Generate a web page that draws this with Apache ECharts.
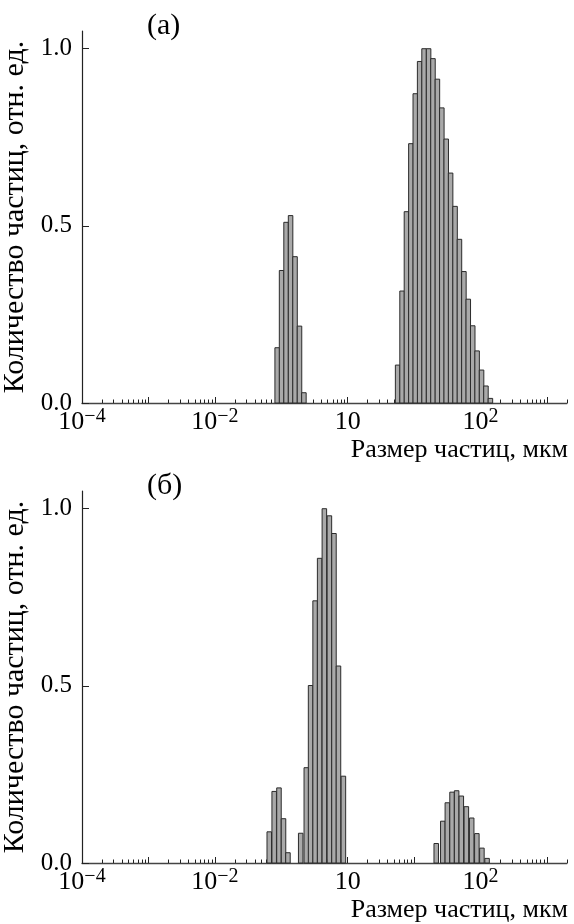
<!DOCTYPE html>
<html>
<head>
<meta charset="utf-8">
<script src="https://cdn.jsdelivr.net/npm/echarts@6/dist/echarts.min.js"></script>
<style>
  html, body { margin: 0; padding: 0; background: #fff; }
  #chart { width: 574px; height: 924px; }
</style>
</head>
<body>
<div id="chart"></div>
<script>
// панель (а): размер частиц, мкм (центры интервалов) и количество, отн. ед.
var sizesA = [0.0867, 0.101, 0.118, 0.138, 0.161, 0.188, 0.219,
  5.64, 6.58, 7.66, 8.93, 10.4, 12.1, 14.1, 16.5, 19.2, 22.4, 26.1,
  30.4, 35.4, 41.3, 48.1, 56.1, 65.3, 76.2, 88.7, 103.5, 120.5, 140.6];
var countsA = [0.156, 0.374, 0.510, 0.529, 0.413, 0.217, 0.029,
  0.107, 0.316, 0.540, 0.732, 0.873, 0.964, 1.0, 1.0, 0.972, 0.914, 0.833,
  0.745, 0.649, 0.555, 0.462, 0.371, 0.293, 0.218, 0.147, 0.093, 0.048, 0.013];

// панель (б)
var sizesB = [0.0659, 0.0782, 0.0923, 0.108, 0.126,
  0.196, 0.238, 0.276, 0.323, 0.378, 0.445, 0.530, 0.621, 0.726, 0.861,
  21.5, 27.0, 31.6, 37.2, 43.6, 51.3, 61.1, 73.5, 87.9, 104.7, 125.3];
var countsB = [0.088, 0.202, 0.212, 0.125, 0.029,
  0.084, 0.269, 0.501, 0.74, 0.86, 1.0, 0.98, 0.93, 0.556, 0.245,
  0.055, 0.118, 0.170, 0.200, 0.204, 0.189, 0.159, 0.127, 0.083, 0.042, 0.013];

// подписи осей
var xLabelPow = [-4, -2, 0, 2];
var xLabelSup = ['\u22124', '\u22122', '', '2'];
var yLabelVals = [0, 0.5, 1.0];
var panelNames = ['(а)', '(б)'];
var xName = 'Размер частиц, мкм';
var yName = 'Количество частиц, отн. ед.';

var FONT = 'Liberation Serif';
var X_MIN = -4, X_MAX = Math.log10(2000);
var BIN = 0.068; // ширина столбца в декадах

var majorTicks = [], minorTicks = [];
for (var d = -4; d <= 3; d++) {
  majorTicks.push(d);
  for (var k = 2; k <= 9; k++) {
    var v = d + Math.log10(k);
    if (v <= X_MAX + 1e-9) minorTicks.push(v);
  }
}

function toData(sizes, counts) {
  var out = [];
  for (var i = 0; i < sizes.length; i++) out.push([Math.log10(sizes[i]), counts[i]]);
  return out;
}

function renderBar(params, api) {
  var x = api.value(0), y = api.value(1);
  var p0 = api.coord([x - BIN / 2, y]);
  var p1 = api.coord([x + BIN / 2, 0]);
  return {
    type: 'rect',
    shape: { x: p0[0], y: p0[1], width: p1[0] - p0[0], height: p1[1] - p0[1] },
    style: { fill: '#a9a9a9', stroke: '#2b2b2b', lineWidth: 1 }
  };
}

function xAxesFor(g) {
  return [{
    type: 'value', gridIndex: g, position: 'bottom', min: X_MIN, max: X_MAX,
    axisLine: { show: true, onZero: false, lineStyle: { color: '#444', width: 1.4 } },
    axisTick: { show: true, inside: true, length: 6, customValues: majorTicks, lineStyle: { color: '#222', width: 1 } },
    axisLabel: {
      customValues: xLabelPow, margin: 5, color: '#000', fontFamily: FONT,
      formatter: function (v) {
        var i = xLabelPow.indexOf(Math.round(v));
        var s = i >= 0 ? xLabelSup[i] : '';
        return '{b|10}' + (s ? '{s|' + s + '}' : '');
      },
      rich: {
        b: { fontFamily: FONT, fontSize: 26, color: '#000', lineHeight: 28 },
        s: { fontFamily: FONT, fontSize: 20, color: '#000', lineHeight: 28, padding: [0, 0, 11, 0] }
      }
    },
    splitLine: { show: false }
  }, {
    type: 'value', gridIndex: g, position: 'bottom', offset: 0, min: X_MIN, max: X_MAX,
    axisLine: { show: false, onZero: false },
    axisTick: { show: true, inside: true, length: 3.5, customValues: minorTicks, lineStyle: { color: '#222', width: 1 } },
    axisLabel: { show: false },
    splitLine: { show: false }
  }];
}

function yAxisFor(g) {
  return {
    type: 'value', gridIndex: g, min: 0, max: 1.05,
    name: yName, nameLocation: 'middle', nameRotate: 90, nameGap: 47,
    nameTextStyle: { fontFamily: FONT, fontSize: 30, color: '#000' },
    axisLine: { show: true, onZero: false, lineStyle: { color: '#222', width: 1.2 } },
    axisTick: { show: true, inside: true, length: 7, customValues: yLabelVals, lineStyle: { color: '#222', width: 1 } },
    axisLabel: {
      customValues: yLabelVals, margin: 10, color: '#000', fontFamily: FONT, fontSize: 25,
      formatter: function (v) { return v.toFixed(1); }
    },
    splitLine: { show: false }
  };
}

function titleText(text, pos) {
  pos.text = text;
  pos.padding = 0;
  pos.textStyle = { fontFamily: FONT, fontSize: pos.size, fontWeight: 'normal', color: '#000' };
  return pos;
}

window.onload = function () {
  var myChart = echarts.init(document.getElementById('chart'), null, { renderer: 'canvas' });
  var option = {
    animation: false,
    backgroundColor: '#fff',
    title: [
      titleText(panelNames[0], { left: 147, top: 11, size: 30 }),
      titleText(panelNames[1], { left: 147, top: 471, size: 30 }),
      titleText(xName, { right: 6, top: 437, size: 26 }),
      titleText(xName, { right: 6, top: 897, size: 26 })
    ],
    grid: [
      { left: 82, top: 31, width: 485, height: 372, containLabel: false, outerBoundsMode: 'none' },
      { left: 82, top: 491, width: 485, height: 372, containLabel: false, outerBoundsMode: 'none' }
    ],
    xAxis: xAxesFor(0).concat(xAxesFor(1)),
    yAxis: [yAxisFor(0), yAxisFor(1)],
    series: [
      { type: 'custom', xAxisIndex: 0, yAxisIndex: 0, renderItem: renderBar, encode: { x: 0, y: 1 }, data: toData(sizesA, countsA) },
      { type: 'custom', xAxisIndex: 2, yAxisIndex: 1, renderItem: renderBar, encode: { x: 0, y: 1 }, data: toData(sizesB, countsB) }
    ]
  };
  myChart.setOption(option);
};
</script>
</body>
</html>
